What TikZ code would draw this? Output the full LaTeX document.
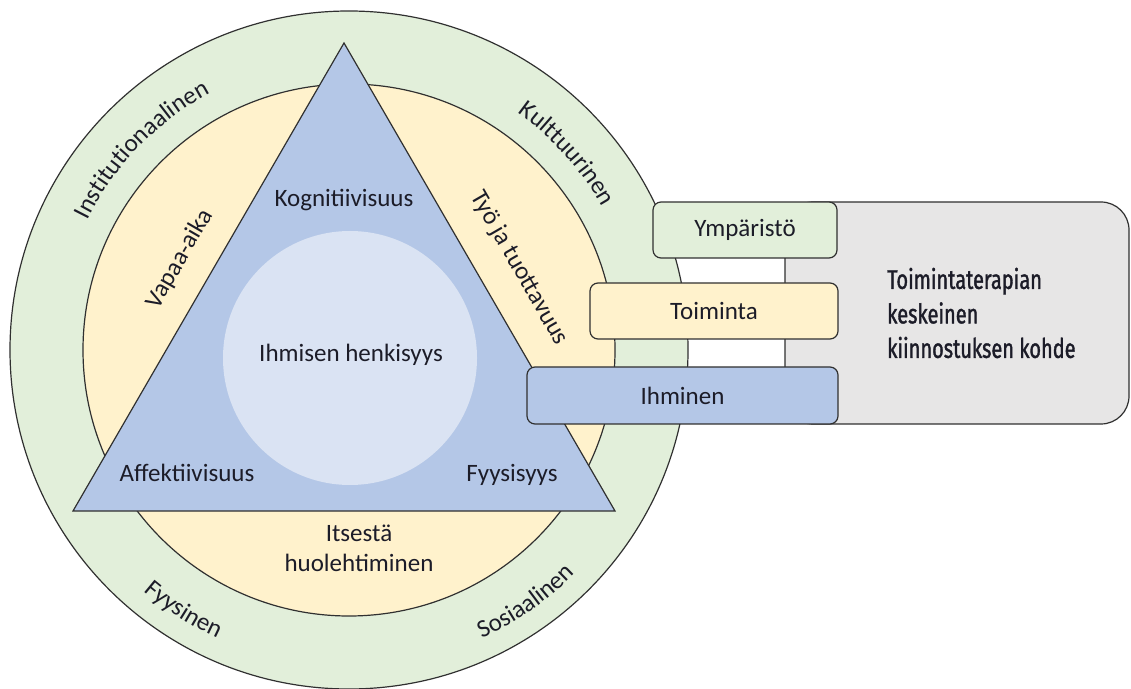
\documentclass[tikz,border=0pt]{standalone}
\usepackage{fontspec}
\setmainfont{Carlito}
\newfontfamily\condfont[FakeStretch=0.74, FakeBold=1.3]{Fira Sans}
\usetikzlibrary{decorations.text}
\definecolor{ringgreen}{HTML}{E2EFDA}
\definecolor{ringyellow}{HTML}{FFF2CC}
\definecolor{triblue}{HTML}{B4C7E7}
\definecolor{coreblue}{HTML}{DAE3F3}
\definecolor{boxgray}{HTML}{E7E6E6}
\definecolor{edgecol}{HTML}{303030}
\definecolor{txt}{HTML}{1C1C28}
\newcommand\ringfmt{\color{txt}\fontsize{25}{30}\selectfont}
\begin{document}
\begin{tikzpicture}[x=1pt,y=1pt,
  outline/.style={draw=edgecol, line width=1.2pt},
  lbl/.style={text=txt, font=\fontsize{25}{30}\selectfont, inner sep=0pt, align=center},
  card/.style={outline, rounded corners=8pt, minimum height=56pt, text=txt,
    font=\fontsize{25}{30}\selectfont, inner sep=0pt},
  ringtext/.style={decorate, decoration={text along path, text align=center, text={|\ringfmt|#1}}}
]
\useasboundingbox (0,0) rectangle (1131,688);
% circles
\filldraw[outline, fill=ringgreen] (349,338) circle[radius=339];
\filldraw[outline, fill=ringyellow] (349,338) circle[radius=266];
% triangle
\filldraw[outline, fill=triblue, line join=miter] (344,645) -- (73,177) -- (615,177) -- cycle;
\fill[coreblue] (350,330) circle[radius=127];
% labels inside
\node[lbl] (kog) at (344,488) {Kognitiivisuus};
\node[lbl] (henk) at (351,333) {Ihmisen henkisyys};
\node[lbl] (aff) at (187,215) {Affektiivisuus};
\node[lbl] (fyys) at (512,213) {Fyysisyys};
\node[lbl] (itse) at (359,140) {Itsestä\\huolehtiminen};
\node[lbl, rotate=60] (vapaa) at (180,429) {Vapaa-aika};
\node[lbl, rotate=-60] (tyo) at (519,420) {Työ ja tuottavuus};
% ring labels
\path[ringtext=Institutionaalinen] (349,338) ++(171:292) arc[start angle=171, end angle=101, radius=292];
\path[ringtext=Kulttuurinen] (349,338) ++(77:291) arc[start angle=77, end angle=7, radius=291];
\path[ringtext=Fyysinen] (349,338) ++(-160:317) arc[start angle=-160, end angle=-85, radius=317];
\path[ringtext=Sosiaalinen] (349,338) ++(-90:318) arc[start angle=-90, end angle=-20, radius=318];
% right panel
\node[outline, fill=boxgray, rounded corners=28pt, minimum width=344pt, minimum height=222pt, inner sep=0pt] (panel) at (957,375) {};
\node[card, fill=ringgreen, minimum width=184pt] (ymp) at (745,458) {Ympäristö};
\node[card, fill=ringyellow, minimum width=248pt] (toim) at (714,377) {Toiminta};
\node[card, fill=triblue, minimum width=311pt, minimum height=57pt] (ihm) at (682.5,292.5) {Ihminen};
\node[anchor=west, align=left, text=txt, inner sep=0pt, font=\condfont\fontsize{27}{34.5}\selectfont] (focus) at (887,375) {Toimintaterapian\\keskeinen\\kiinnostuksen kohde};
\end{tikzpicture}
\end{document}
